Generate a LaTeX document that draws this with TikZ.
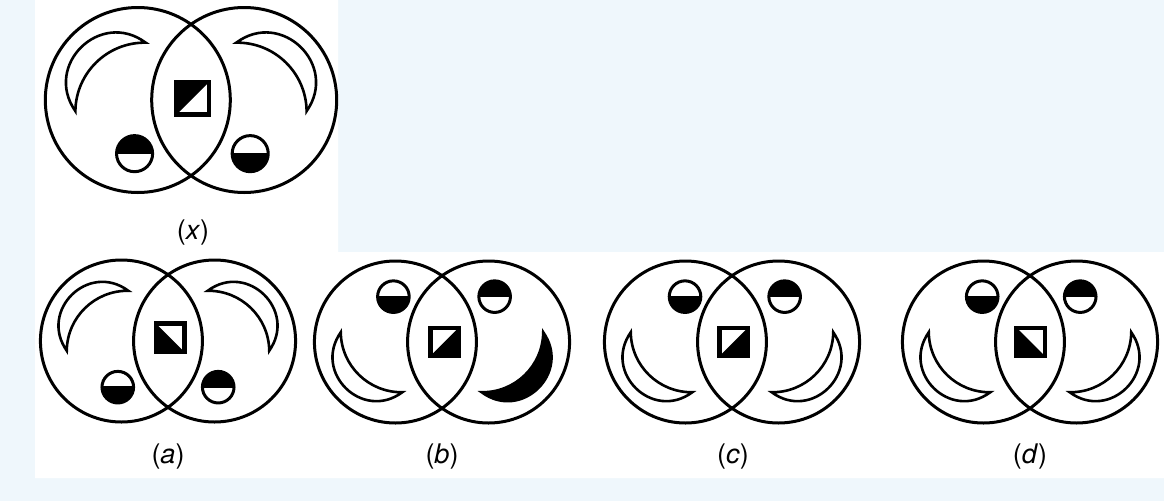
\documentclass[tikz,border=0pt]{standalone}
\usepackage{fontspec}
\setmainfont{TeX Gyre Heros}
\definecolor{bgblue}{HTML}{EFF7FC}
\tikzset{
  ring/.style={line width=3pt},
  crescent/.style={line width=2.6pt, fill=white, line join=miter},
  crescentdark/.style={line width=2.6pt, fill=black, line join=miter},
  dotline/.style={line width=3pt},
  sqline/.style={line width=4.6pt},
  lbl/.style={font=\fontsize{27}{30}\selectfont, inner sep=0pt},
  cresW/.pic={\draw[crescent] (-1.25,-0.12) .. controls (-1.60,0.379) and (-0.979,0.983) .. (-0.49,0.62) .. controls (-0.904,0.626) and (-1.245,0.294) .. (-1.25,-0.12) -- cycle;},
  cresB/.pic={\draw[crescentdark] (-1.25,-0.12) .. controls (-1.60,0.379) and (-0.979,0.983) .. (-0.49,0.62) .. controls (-0.904,0.626) and (-1.245,0.294) .. (-1.25,-0.12) -- cycle;},
  hdot/.pic={\fill (0.195,0) arc[start angle=0, end angle=180, radius=0.195] -- cycle;
             \draw[dotline] (0,0) circle[radius=0.195];
             \draw[line width=1.4pt] (-0.195,0) -- (0.195,0);},
  sqr/.pic={\fill (-0.175,-0.175) -- (-0.175,0.175) -- (0.175,0.175) -- cycle;
            \draw[sqline] (-0.175,-0.175) rectangle (0.175,0.175);},
  twin/.pic={\draw[ring] (-0.575,0) circle[radius=1];
             \draw[ring] (0.575,0) circle[radius=1];}
}
\begin{document}
\begin{tikzpicture}[x=1pt,y=-1pt]
\fill[bgblue] (0,0) rectangle (1164,501);
\fill[white] (35,0) -- (338,0) -- (338,252) -- (1164,252) -- (1164,478) -- (35,478) -- cycle;

% ---- figure (x)
\begin{scope}[shift={(191,100)}, x=92.5pt, y=92.5pt]
  \pic {twin};
  \pic {cresW};
  \pic[xscale=-1] {cresW};
  \pic at (0.02,0.02) {sqr};
  \pic at (-0.61,-0.58) {hdot};
  \pic[rotate=180] at (0.64,-0.58) {hdot};
\end{scope}
\node[lbl] (lx) at (193,233) {(\textit{x})};

% ---- figure (a)
\begin{scope}[shift={(168,341)}, x=81pt, y=81pt]
  \pic {twin};
  \pic {cresW};
  \pic[xscale=-1] {cresW};
  \pic[rotate=90] at (0.025,0.04) {sqr};
  \pic[rotate=180] at (-0.62,-0.57) {hdot};
  \pic at (0.62,-0.57) {hdot};
\end{scope}
\node[lbl] (la) at (168,457) {(\textit{a})};

% ---- figure (b)
\begin{scope}[shift={(442,342)}, x=81pt, y=81pt]
  \pic {twin};
  \pic[yscale=-1] {cresW};
  \pic[xscale=-1, yscale=-1] {cresB};
  \pic[rotate=180] at (0.03,0) {sqr};
  \pic[rotate=180] at (-0.6,0.56) {hdot};
  \pic at (0.65,0.56) {hdot};
\end{scope}
\node[lbl] (lb) at (442,457) {(\textit{b})};

% ---- figure (c)
\begin{scope}[shift={(732,342)}, x=81pt, y=81pt]
  \pic {twin};
  \pic[yscale=-1] {cresW};
  \pic[xscale=-1, yscale=-1] {cresW};
  \pic[rotate=180] at (0.02,0) {sqr};
  \pic[rotate=180] at (-0.58,0.56) {hdot};
  \pic at (0.65,0.56) {hdot};
\end{scope}
\node[lbl] (lc) at (733,457) {(\textit{c})};

% ---- figure (d)
\begin{scope}[shift={(1030,342)}, x=81pt, y=81pt]
  \pic {twin};
  \pic[yscale=-1] {cresW};
  \pic[xscale=-1, yscale=-1] {cresW};
  \pic[rotate=90] at (0.01,0) {sqr};
  \pic[rotate=180] at (-0.59,0.56) {hdot};
  \pic at (0.62,0.56) {hdot};
\end{scope}
\node[lbl] (ld) at (1030,457) {(\textit{d})};
\end{tikzpicture}
\end{document}
